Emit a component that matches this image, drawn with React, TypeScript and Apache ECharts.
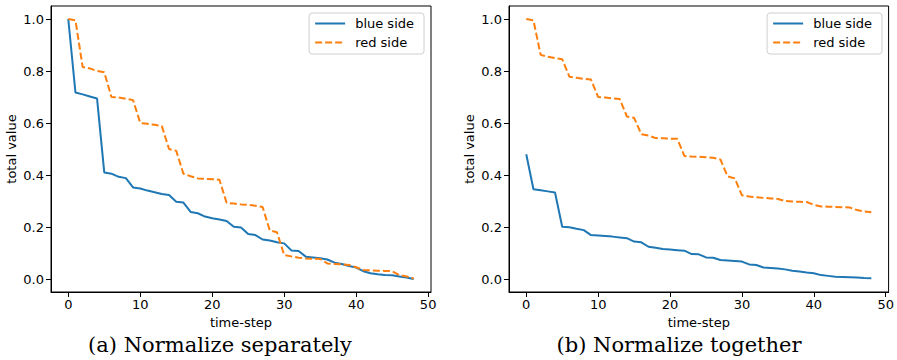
import React, { useEffect, useRef } from "react";
import * as echarts from "echarts";

const timeSteps: number[] = Array.from({ length: 49 }, (_, i) => i);

const blueSeparate = [
  1.0, 0.717, 0.71, 0.702, 0.694, 0.41, 0.405, 0.393, 0.388, 0.352,
  0.348, 0.34, 0.334, 0.327, 0.323, 0.297, 0.294, 0.258, 0.253, 0.24,
  0.234, 0.229, 0.223, 0.201, 0.198, 0.173, 0.169, 0.152, 0.148, 0.141,
  0.137, 0.11, 0.108, 0.086, 0.083, 0.08, 0.075, 0.063, 0.058, 0.05,
  0.044, 0.03, 0.022, 0.018, 0.015, 0.014, 0.01, 0.006, 0.0,
];
const redSeparate = [
  1.0, 0.995, 0.815, 0.81, 0.8, 0.795, 0.7, 0.698, 0.693, 0.688,
  0.6, 0.597, 0.593, 0.588, 0.5, 0.493, 0.405, 0.395, 0.387, 0.385,
  0.384, 0.382, 0.293, 0.29, 0.287, 0.285, 0.282, 0.277, 0.187, 0.18,
  0.092, 0.087, 0.082, 0.079, 0.078, 0.077, 0.06, 0.058, 0.056, 0.054,
  0.045, 0.035, 0.033, 0.032, 0.031, 0.03, 0.015, 0.01, 0.002,
];
const blueTogether = [
  0.48, 0.345, 0.341, 0.337, 0.333, 0.201, 0.199, 0.193, 0.188, 0.169,
  0.167, 0.165, 0.163, 0.16, 0.157, 0.144, 0.141, 0.124, 0.12, 0.115,
  0.113, 0.111, 0.109, 0.096, 0.095, 0.083, 0.082, 0.073, 0.071, 0.069,
  0.067, 0.056, 0.054, 0.044, 0.042, 0.04, 0.037, 0.032, 0.029, 0.025,
  0.022, 0.015, 0.012, 0.009, 0.008, 0.007, 0.006, 0.004, 0.003,
];
const redTogether = [
  1.0, 0.995, 0.862, 0.855, 0.85, 0.845, 0.778, 0.774, 0.77, 0.767,
  0.7, 0.698, 0.695, 0.692, 0.625, 0.62, 0.557, 0.552, 0.542, 0.541,
  0.54, 0.539, 0.473, 0.471, 0.47, 0.468, 0.466, 0.46, 0.395, 0.387,
  0.322, 0.317, 0.314, 0.312, 0.31, 0.308, 0.3, 0.298, 0.297, 0.296,
  0.285, 0.279, 0.278, 0.277, 0.276, 0.275, 0.265, 0.26, 0.257,
];

const xTicks = [0, 10, 20, 30, 40, 50];
const yTicks = [0, 0.2, 0.4, 0.6, 0.8, 1.0];
const seriesNames = ["blue side", "red side"];
const captions = ["(a) Normalize separately", "(b) Normalize together"];
const xName = "time-step";
const yName = "total value";

const BLUE = "#1f77b4";
const ORANGE = "#ff7f0e";
const SANS = "DejaVu Sans";
const SERIF = '"DejaVu Serif"';

export default function App() {
  const ref = useRef<HTMLDivElement>(null);
  useEffect(() => {
    if (!ref.current) return;
    const chart = echarts.init(ref.current, null, { renderer: "svg" });
    const grids = [
      { left: 51, right: 897 - 431, top: 6, bottom: 360 - 292 },
      { left: 509, right: 897 - 889, top: 6, bottom: 360 - 292 },
    ];
    const xAxes = grids.map((_, i) => ({
      type: "value",
      gridIndex: i,
      min: -2.4,
      max: 50.4,
      name: xName,
      nameLocation: "middle",
      nameGap: 22,
      nameTextStyle: { fontFamily: SANS, fontSize: 13, color: "#000" },
      axisLine: { show: true, onZero: false, lineStyle: { color: "#000", width: 1 } },
      axisTick: { show: true, length: 5, customValues: xTicks, lineStyle: { color: "#000" } },
      axisLabel: {
        customValues: xTicks,
        fontFamily: SANS,
        fontSize: 13,
        color: "#000",
        margin: 6,
        formatter: (v: number) => String(v),
      },
      splitLine: { show: false },
    }));
    const yAxes = grids.map((_, i) => ({
      type: "value",
      gridIndex: i,
      min: -0.05,
      max: 1.05,
      name: yName,
      nameLocation: "middle",
      nameGap: 33,
      nameRotate: 90,
      nameTextStyle: { fontFamily: SANS, fontSize: 13, color: "#000" },
      axisLine: { show: true, onZero: false, lineStyle: { color: "#000", width: 1 } },
      axisTick: { show: true, length: 5, customValues: yTicks, lineStyle: { color: "#000" } },
      axisLabel: {
        customValues: yTicks,
        fontFamily: SANS,
        fontSize: 13,
        color: "#000",
        margin: 7,
        formatter: (v: number) => v.toFixed(1),
      },
      splitLine: { show: false },
    }));
    const mk = (name: string, vals: number[], idx: number, color: string, dashed: boolean) => ({
      type: "line",
      name,
      xAxisIndex: idx,
      yAxisIndex: idx,
      data: timeSteps.map((t, i) => [t, vals[i]]),
      showSymbol: false,
      symbol: "none",
      color,
      lineStyle: { color, width: 2, type: dashed ? [7, 3] : "solid" },
    });
    const legends = [431, 889].map((r) => ({
      orient: "vertical",
      right: 897 - r + 7,
      top: 13,
      data: seriesNames,
      itemWidth: 30,
      itemHeight: 14,
      itemGap: 6,
      padding: [4, 10, 5, 5],
      backgroundColor: "#fff",
      borderColor: "#d0d0d0",
      borderWidth: 1,
      borderRadius: 3,
      itemStyle: { opacity: 0 },
      textStyle: { fontFamily: SANS, fontSize: 13, color: "#000", padding: [0, 0, 0, 5] },
    }));
    chart.setOption({
      animation: false,
      grid: grids.map((g) => ({ ...g, show: true, borderColor: "#000", borderWidth: 1, backgroundColor: "transparent" })),
      xAxis: xAxes,
      yAxis: yAxes,
      legend: legends,
      series: [
        mk(seriesNames[0], blueSeparate, 0, BLUE, false),
        mk(seriesNames[1], redSeparate, 0, ORANGE, true),
        mk(seriesNames[0], blueTogether, 1, BLUE, false),
        mk(seriesNames[1], redTogether, 1, ORANGE, true),
      ],
      graphic: [
        {
          type: "text",
          x: 220,
          y: 345,
          style: { text: captions[0], font: `21px ${SERIF}`, fill: "#000", align: "center", verticalAlign: "middle" },
        },
        {
          type: "text",
          x: 679,
          y: 345,
          style: { text: captions[1], font: `21px ${SERIF}`, fill: "#000", align: "center", verticalAlign: "middle" },
        },
      ],
    });
    return () => chart.dispose();
  }, []);
  return <div ref={ref} style={{ position: "absolute", left: 0, top: 0, width: 897, height: 360 }} />;
}
